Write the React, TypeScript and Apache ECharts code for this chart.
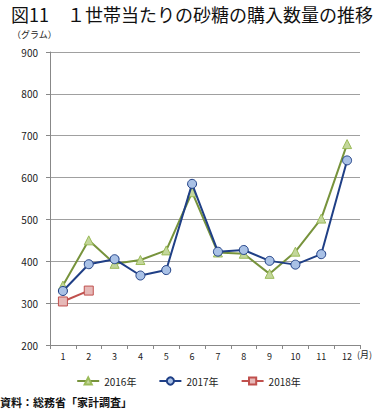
import React, { useEffect, useRef } from "react";
import * as echarts from "echarts";

const months = ["1", "2", "3", "4", "5", "6", "7", "8", "9", "10", "11", "12"];
const s2016 = [342, 450, 394, 403, 426, 565, 421, 418, 370, 423, 502, 680];
const s2017 = [329, 393, 405, 366, 379, 585, 423, 427, 401, 392, 417, 641];
const s2018 = [304, 330];
const yTicks = { min: 200, max: 900, interval: 100 };

const FONT = "'Noto Sans CJK JP', 'Noto Sans', sans-serif";

export default function App() {
  const ref = useRef<HTMLDivElement>(null);
  useEffect(() => {
    document.body.style.margin = "0";
    const chart = echarts.init(ref.current!, null, { renderer: "svg" });
    chart.setOption({
      animation: false,
      backgroundColor: "#fff",
      textStyle: { fontFamily: FONT },
      grid: { left: 50, right: 17, top: 52, bottom: 65 },
      title: {
        text: "図11　１世帯当たりの砂糖の購入数量の推移",
        left: 6,
        top: 0,
        textStyle: { fontSize: 18, fontWeight: "normal", color: "#111", fontFamily: FONT },
      },
      graphic: [
        { type: "text", left: 12, top: 30, style: { text: "（グラム）", fontSize: 9, fill: "#222", fontFamily: FONT } },
        { type: "text", left: 357, top: 350, style: { text: "(月)", fontSize: 9, fill: "#222", fontFamily: FONT } },
        { type: "text", left: 0, top: 396, style: { text: "資料：総務省「家計調査」", fontSize: 11, fontWeight: "bold", fill: "#111", fontFamily: FONT } },
      ],
      legend: {
        bottom: 19,
        left: "center",
        itemWidth: 22,
        itemHeight: 9,
        itemGap: 22,
        textStyle: { fontSize: 10, color: "#222", fontFamily: FONT },
        data: ["2016年", "2017年", "2018年"],
      },
      xAxis: {
        type: "category",
        data: months,
        boundaryGap: true,
        axisLine: { lineStyle: { color: "#888", width: 1 } },
        axisTick: { show: true, length: 4, lineStyle: { color: "#888" } },
        axisLabel: { fontSize: 9, color: "#222", margin: 7 },
      },
      yAxis: {
        type: "value",
        min: yTicks.min,
        max: yTicks.max,
        interval: yTicks.interval,
        axisLine: { show: true, lineStyle: { color: "#888", width: 1 } },
        axisTick: { show: true, length: 4, lineStyle: { color: "#888" } },
        axisLabel: { fontSize: 10, color: "#222", margin: 12 },
        splitLine: { lineStyle: { color: "#a0a0a0", width: 1 } },
      },
      series: [
        {
          name: "2016年",
          type: "line",
          data: s2016,
          symbol: "triangle",
          symbolSize: 9,
          lineStyle: { color: "#77933C", width: 2 },
          itemStyle: { color: "#C3D69B", borderColor: "#9BBB59", borderWidth: 1 },
          z: 2,
        },
        {
          name: "2017年",
          type: "line",
          data: s2017,
          symbol: "circle",
          symbolSize: 9,
          lineStyle: { color: "#1F3F86", width: 2 },
          itemStyle: { color: "#A9C1E6", borderColor: "#1F3F86", borderWidth: 1 },
          z: 3,
        },
        {
          name: "2018年",
          type: "line",
          data: s2018,
          symbol: "rect",
          symbolSize: 9,
          lineStyle: { color: "#C0504D", width: 2 },
          itemStyle: { color: "#E6B9B8", borderColor: "#C0504D", borderWidth: 1 },
          z: 4,
        },
      ],
    });
    return () => chart.dispose();
  }, []);
  return <div ref={ref} style={{ width: 377, height: 410 }} />;
}
